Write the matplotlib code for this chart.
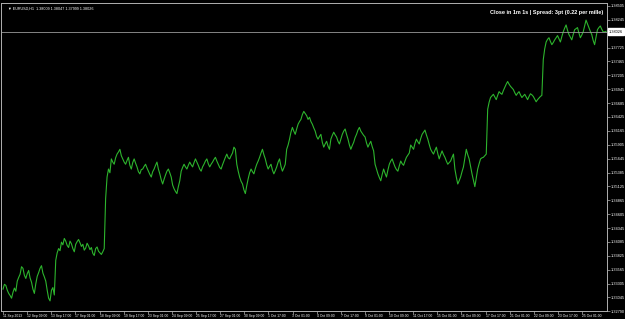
# EURUSD H1 折线图 (MT4 风格)
import numpy as np
import matplotlib.pyplot as plt

# 收盘价序列
close = [
    # 11-13 Sep
    1.3320, 1.3329, 1.3327, 1.3318, 1.3312, 1.3308, 1.3303, 1.3314, 1.3322, 1.3316,
    1.3335, 1.3342, 1.3348, 1.3362, 1.3359, 1.3346, 1.3340, 1.3349, 1.3355, 1.3341,
    1.3333, 1.3320, 1.3312, 1.3330, 1.3344, 1.3351, 1.3359, 1.3364, 1.3350, 1.3343,
    1.3335, 1.3318, 1.3303, 1.3298, 1.3318, 1.3323, 1.3309,
    # 13-18 Sep
    1.3374, 1.3388, 1.3396, 1.3392, 1.3408, 1.3403, 1.3415, 1.3410, 1.3402, 1.3398,
    1.3410, 1.3405, 1.3396, 1.3390, 1.3404, 1.3409, 1.3413, 1.3407, 1.3400, 1.3404,
    1.3393, 1.3397, 1.3406, 1.3401, 1.3394, 1.3398, 1.3387, 1.3383, 1.3396, 1.3399,
    1.3391, 1.3388, 1.3385, 1.3390, 1.3396,
    # 18-24 Sep
    1.3490, 1.3530, 1.3545, 1.3538, 1.3564, 1.3558, 1.3554, 1.3566, 1.3573, 1.3577,
    1.3582, 1.3570, 1.3564, 1.3558, 1.3554, 1.3561, 1.3567, 1.3552, 1.3545, 1.3557,
    1.3564, 1.3556, 1.3549, 1.3540, 1.3536, 1.3544, 1.3545, 1.3550, 1.3554, 1.3547,
    1.3541, 1.3535, 1.3530, 1.3540, 1.3545, 1.3552, 1.3558, 1.3545, 1.3536, 1.3525,
    1.3517, 1.3526, 1.3534, 1.3541, 1.3545, 1.3538, 1.3530, 1.3515, 1.3508, 1.3503,
    1.3499, 1.3512, 1.3523,
    # 24-27 Sep
    1.3541, 1.3548, 1.3554, 1.3549, 1.3545, 1.3552, 1.3558, 1.3553, 1.3549, 1.3557,
    1.3564, 1.3558, 1.3552, 1.3545, 1.3541, 1.3549, 1.3554, 1.3560, 1.3564, 1.3555,
    1.3549, 1.3554, 1.3558, 1.3563, 1.3567, 1.3560, 1.3554, 1.3548, 1.3545, 1.3553,
    1.3560, 1.3567, 1.3573, 1.3566, 1.3564, 1.3570, 1.3575, 1.3586, 1.3582,
    # 27 Sep - 1 Oct
    1.3554, 1.3541, 1.3530, 1.3522, 1.3517, 1.3506, 1.3499, 1.3514, 1.3527, 1.3538,
    1.3545, 1.3540, 1.3536, 1.3546, 1.3554, 1.3560, 1.3567, 1.3575, 1.3582, 1.3572,
    1.3564, 1.3553, 1.3545, 1.3550, 1.3554, 1.3543, 1.3536, 1.3542, 1.3549, 1.3558,
    1.3564, 1.3550, 1.3541, 1.3547, 1.3554,
    # 1-3 Oct
    1.3582, 1.3590, 1.3601, 1.3614, 1.3623, 1.3616, 1.3610, 1.3620, 1.3629, 1.3634,
    1.3638, 1.3647, 1.3653, 1.3649, 1.3645, 1.3638, 1.3642, 1.3634, 1.3629, 1.3622,
    1.3616, 1.3606, 1.3601, 1.3606, 1.3610, 1.3595, 1.3586, 1.3592, 1.3597, 1.3588,
    1.3582,
    # 3-7 Oct
    1.3601, 1.3608, 1.3614, 1.3609, 1.3605, 1.3597, 1.3592, 1.3601, 1.3610, 1.3616,
    1.3620, 1.3610, 1.3601, 1.3590, 1.3582, 1.3589, 1.3595, 1.3604, 1.3610, 1.3618,
    1.3623, 1.3616, 1.3612, 1.3608, 1.3605, 1.3594, 1.3586, 1.3592, 1.3597, 1.3587,
    1.3579,
    # 7-10 Oct
    1.3554, 1.3545, 1.3536, 1.3529, 1.3523, 1.3535, 1.3545, 1.3537, 1.3530, 1.3543,
    1.3554, 1.3560, 1.3564, 1.3556, 1.3549, 1.3544, 1.3541, 1.3551, 1.3560, 1.3555,
    1.3552, 1.3560, 1.3567, 1.3571, 1.3575,
    # 10-15 Oct
    1.3590, 1.3586, 1.3582, 1.3593, 1.3601, 1.3596, 1.3592, 1.3602, 1.3610, 1.3614,
    1.3618, 1.3609, 1.3601, 1.3591, 1.3582, 1.3577, 1.3573, 1.3580, 1.3586, 1.3574,
    1.3564, 1.3572, 1.3579, 1.3572, 1.3567, 1.3560, 1.3554, 1.3557, 1.3560, 1.3567,
    1.3573,
    # 15-17 Oct
    1.3545, 1.3530, 1.3517, 1.3523, 1.3530, 1.3540, 1.3549, 1.3566, 1.3582, 1.3572,
    1.3564, 1.3550, 1.3536, 1.3524, 1.3512, 1.3528, 1.3545, 1.3555, 1.3564, 1.3566,
    1.3567, 1.3570, 1.3573,
    # 17-22 Oct
    1.3657, 1.3670, 1.3679, 1.3682, 1.3685, 1.3680, 1.3675, 1.3683, 1.3690, 1.3687,
    1.3685, 1.3692, 1.3698, 1.3704, 1.3709, 1.3704, 1.3700, 1.3697, 1.3694, 1.3688,
    1.3683, 1.3687, 1.3690, 1.3684, 1.3679, 1.3682, 1.3685, 1.3680, 1.3675, 1.3681,
    1.3686, 1.3684, 1.3681, 1.3676, 1.3671, 1.3675, 1.3678, 1.3681, 1.3683,
    # 22-25 Oct
    1.3750, 1.3770, 1.3783, 1.3788, 1.3791, 1.3784, 1.3778, 1.3782, 1.3787, 1.3791,
    1.3795, 1.3789, 1.3783, 1.3793, 1.3802, 1.3809, 1.3815, 1.3805, 1.3797, 1.3792,
    1.3787, 1.3797, 1.3806, 1.3808, 1.3810, 1.3800, 1.3791, 1.3796, 1.3802, 1.3813,
    1.3824, 1.3817, 1.3810, 1.3803, 1.3797, 1.3786, 1.3778, 1.3792, 1.3806, 1.3810,
    1.3813, 1.3807, 1.3802, 1.3802, 1.3803,
]

# 当前价格
last_price = 1.38026

# 右侧价格刻度
y_ticks = [1.38505, 1.38245, 1.37725, 1.37465, 1.37205, 1.36945, 1.36685, 1.36425,
           1.36165, 1.35905, 1.35645, 1.35385, 1.35125, 1.34865, 1.34605, 1.34345,
           1.34085, 1.33825, 1.33565, 1.33305, 1.33045, 1.32790]

# 时间刻度
x_labels = ['11 Sep 2013', '12 Sep 09:00', '13 Sep 17:00', '17 Sep 01:00', '18 Sep 09:00',
            '19 Sep 17:00', '23 Sep 01:00', '24 Sep 09:00', '25 Sep 17:00', '27 Sep 01:00',
            '30 Sep 09:00', '1 Oct 17:00', '3 Oct 01:00', '4 Oct 09:00', '7 Oct 17:00',
            '9 Oct 01:00', '10 Oct 09:00', '11 Oct 17:00', '15 Oct 01:00', '16 Oct 09:00',
            '17 Oct 17:00', '21 Oct 01:00', '22 Oct 09:00', '23 Oct 17:00', '25 Oct 01:00']

header = '▼ EURUSD,H1  1.38009 1.38047 1.37999 1.38026'
spread_text = 'Close in 1m 1s | Spread: 3pt (0.22 per mille)'

plt.rcParams['font.family'] = ['Liberation Sans', 'DejaVu Sans']

fig = plt.figure(figsize=(6.25, 3.19), dpi=100, facecolor='black')
ax = fig.add_axes([0.0016, 0.025, 0.9696, 0.9655], facecolor='black')

n = len(close)
x = np.arange(n)
ax.plot(x, close, color='#2db42d', lw=0.8)
ax.axhline(last_price, color='#9a9a9a', lw=0.6)

step = (n - 1) / 603  # 每像素对应的 bar 数
ax.set_xlim(-2 * step, n - 1 + step)
ax.set_ylim(1.3279, 1.3856)

for s in ax.spines.values():
    s.set_color('#b0b0b0')
    s.set_linewidth(0.7)

ax.yaxis.tick_right()
ax.set_yticks(y_ticks)
ax.set_yticklabels([f'{v:.5f}' for v in y_ticks])
ax.tick_params(axis='y', colors='#b0b0b0', labelcolor='white', labelsize=2.8,
               length=2, width=0.5, pad=1)

xt = np.linspace(0, 579 * step, len(x_labels))
ax.set_xticks(xt)
ax.set_xticklabels(x_labels, ha='left')
ax.tick_params(axis='x', colors='#b0b0b0', labelcolor='white', labelsize=2.4,
               length=2, width=0.5, pad=0.3)

# 当前价格标签
ax.text(1.003, last_price, f'{last_price:.5f}', transform=ax.get_yaxis_transform(),
        fontsize=2.8, color='black', va='center', ha='left',
        bbox=dict(facecolor='white', edgecolor='white', pad=0.8))

fig.text(0.012, 0.972, header, fontsize=2.7, color='white', va='center', ha='left')
fig.text(0.965, 0.962, spread_text, fontsize=4.0, color='white', weight='bold',
         va='center', ha='right')

fig.savefig('out.png', dpi=100, facecolor='black')
